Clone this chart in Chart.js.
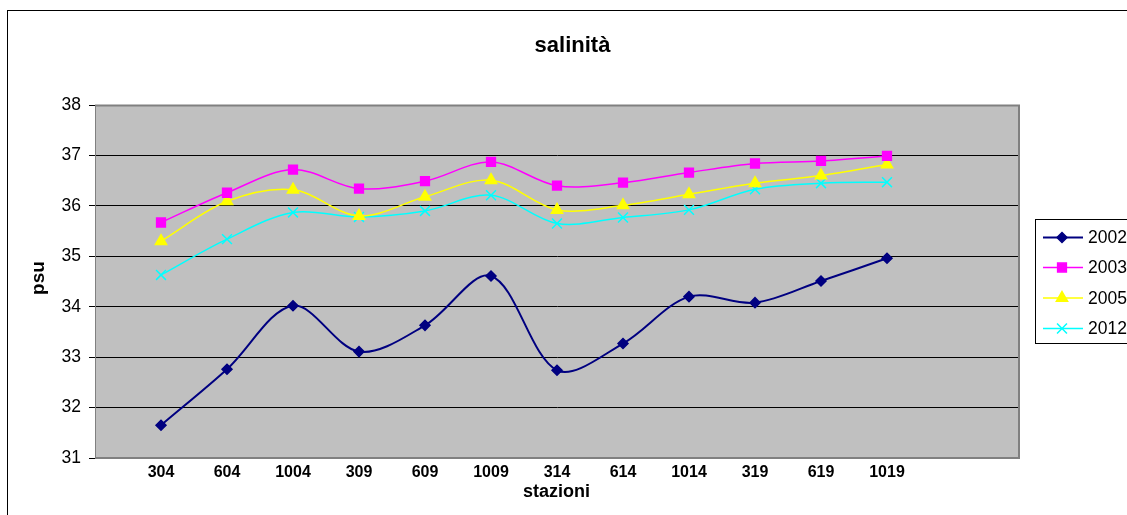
<!DOCTYPE html>
<html>
<head>
<meta charset="utf-8">
<title>salinità</title>
<script src="https://cdn.jsdelivr.net/npm/chart.js@4/dist/chart.umd.min.js"></script>
<style>
  html, body { margin: 0; padding: 0; background: #ffffff; }
  #wrap { width: 1127px; height: 515px; position: relative; overflow: hidden; }
  canvas { display: block; }
</style>
</head>
<body>
<div id="wrap"><canvas id="c" width="1127" height="515"></canvas></div>
<script>
// Stations along the transect
const stazioni = ['304', '604', '1004', '309', '609', '1009', '314', '614', '1014', '319', '619', '1019'];

// Salinity (psu) per survey year
const anni = ['2002', '2003', '2005', '2012'];
const sal2002 = [31.65, 32.76, 34.02, 33.11, 33.63, 34.61, 32.74, 33.27, 34.20, 34.08, 34.51, 34.96];
const sal2003 = [35.67, 36.26, 36.72, 36.34, 36.49, 36.87, 36.40, 36.46, 36.66, 36.84, 36.89, 36.99];
const sal2005 = [35.30, 36.09, 36.32, 35.80, 36.18, 36.51, 35.92, 36.01, 36.23, 36.45, 36.60, 36.82];
const sal2012 = [34.63, 35.34, 35.87, 35.78, 35.90, 36.21, 35.65, 35.77, 35.92, 36.33, 36.45, 36.47];

// Value axis range
const yMin = 31, yMax = 38, yStep = 1;

// The category axis keeps one empty slot before the first station and two after the last
const etichette = [''].concat(stazioni, ['', '']);
const pad = arr => [null].concat(arr, [null, null]);

const FONT = '"Liberation Sans", Arial, sans-serif';

const serie = [
  { label: anni[0], data: pad(sal2002), color: '#000080', style: 'rectRot', radius: 5, width: 2 },
  { label: anni[1], data: pad(sal2003), color: '#FF00FF', style: 'rect', radius: 6.2, width: 1.5 },
  { label: anni[2], data: pad(sal2005), color: '#FFFF00', style: 'triangle', radius: 6.5, width: 1.5 },
  { label: anni[3], data: pad(sal2012), color: '#00FFFF', style: 'crossRot', radius: 7, width: 1.5 }
];

function marker(ctx, style, x, y, r, color) {
  ctx.save();
  ctx.fillStyle = color;
  ctx.strokeStyle = color;
  ctx.lineWidth = 1.5;
  ctx.beginPath();
  if (style === 'rectRot') {
    ctx.moveTo(x, y - r); ctx.lineTo(x + r, y); ctx.lineTo(x, y + r); ctx.lineTo(x - r, y);
    ctx.closePath(); ctx.fill(); ctx.stroke();
  } else if (style === 'rect') {
    const s = r * Math.SQRT1_2;
    ctx.rect(x - s, y - s, 2 * s, 2 * s); ctx.fill(); ctx.stroke();
  } else if (style === 'triangle') {
    for (let i = 0; i < 3; i++) {
      const a = -Math.PI / 2 + i * 2 * Math.PI / 3;
      const px = x + r * Math.cos(a), py = y + r * Math.sin(a);
      if (i === 0) ctx.moveTo(px, py); else ctx.lineTo(px, py);
    }
    ctx.closePath(); ctx.fill(); ctx.stroke();
  } else {
    const s = r * Math.SQRT1_2;
    ctx.moveTo(x - s, y - s); ctx.lineTo(x + s, y + s);
    ctx.moveTo(x + s, y - s); ctx.lineTo(x - s, y + s);
    ctx.stroke();
  }
  ctx.restore();
}

// Page frame, plot background and plot border
const sfondo = {
  id: 'sfondo',
  beforeDraw(chart) {
    const { ctx, chartArea: a } = chart;
    ctx.save();
    ctx.fillStyle = '#ffffff';
    ctx.fillRect(0, 0, chart.width, chart.height);
    ctx.fillStyle = '#C0C0C0';
    ctx.fillRect(a.left, a.top, a.right - a.left, a.bottom - a.top);
    ctx.restore();
  },
  beforeDatasetsDraw(chart) {
    const { ctx, chartArea: a } = chart;
    ctx.save();
    ctx.strokeStyle = '#808080';
    ctx.lineWidth = 2;
    ctx.beginPath();
    ctx.moveTo(a.left, a.top + 0.5);
    ctx.lineTo(a.right, a.top + 0.5);
    ctx.lineTo(a.right, a.bottom);
    ctx.lineTo(a.left, a.bottom);
    ctx.stroke();
    ctx.restore();
  }
};

// Title, axis titles and legend box
const testi = {
  id: 'testi',
  afterDraw(chart) {
    const { ctx } = chart;
    ctx.save();
    // outer frame
    ctx.strokeStyle = '#000000';
    ctx.lineWidth = 1;
    ctx.strokeRect(7.5, 10.5, 1200, 600);

    ctx.fillStyle = '#000000';
    ctx.textAlign = 'center';
    ctx.textBaseline = 'alphabetic';
    ctx.font = 'bold 22px ' + FONT;
    ctx.fillText('salinità', 572.5, 52);

    ctx.font = 'bold 18px ' + FONT;
    ctx.fillText('stazioni', 556.5, 497);

    ctx.save();
    ctx.translate(43.5, 278);
    ctx.rotate(-Math.PI / 2);
    ctx.font = 'bold 19px ' + FONT;
    ctx.fillText('psu', 0, 0);
    ctx.restore();

    // legend
    const lx = 1035.5, ly = 219.5, lw = 150, lh = 124;
    ctx.fillStyle = '#ffffff';
    ctx.fillRect(lx, ly, lw, lh);
    ctx.strokeStyle = '#000000';
    ctx.lineWidth = 1;
    ctx.strokeRect(lx, ly, lw, lh);
    const ys = [237.5, 267.5, 298, 328.5];
    chart.data.datasets.forEach((ds, i) => {
      const y = ys[i];
      ctx.strokeStyle = ds.borderColor;
      ctx.lineWidth = ds.borderWidth;
      ctx.beginPath();
      ctx.moveTo(1043, y);
      ctx.lineTo(1083, y);
      ctx.stroke();
      marker(ctx, serie[i].style, 1062, y, serie[i].radius, ds.borderColor);
      ctx.fillStyle = '#000000';
      ctx.textAlign = 'left';
      ctx.textBaseline = 'middle';
      ctx.font = '17.5px ' + FONT;
      ctx.fillText(ds.label, 1088, y + 1);
    });
    ctx.restore();
  }
};

new Chart(document.getElementById('c'), {
  type: 'line',
  data: {
    labels: etichette,
    datasets: serie.map(s => ({
      label: s.label,
      data: s.data,
      borderColor: s.color,
      backgroundColor: s.color,
      borderWidth: s.width,
      pointStyle: s.style,
      pointRadius: s.radius,
      pointBorderWidth: 1.5,
      pointBackgroundColor: s.color,
      pointBorderColor: s.color,
      tension: 0.33,
      fill: false
    }))
  },
  options: {
    responsive: false,
    animation: false,
    devicePixelRatio: 1,
    layout: { padding: { left: 0, top: 105, right: 108, bottom: 0 } },
    plugins: {
      legend: { display: false },
      title: { display: false },
      tooltip: { enabled: false }
    },
    scales: {
      x: {
        type: 'category',
        offset: false,
        grid: { display: false, drawTicks: false, tickLength: 0 },
        border: { display: false },
        ticks: {
          autoSkip: false,
          maxRotation: 0,
          padding: 5,
          color: '#000000',
          font: { family: FONT, size: 16, weight: 'bold' }
        },
        afterFit(scale) { scale.height = 57; }
      },
      y: {
        min: yMin,
        max: yMax,
        ticks: {
          stepSize: yStep,
          padding: 8,
          color: '#000000',
          font: { family: FONT, size: 17.5 }
        },
        grid: {
          color: ctx => (ctx.tick && (ctx.tick.value === yMin || ctx.tick.value === yMax)) ? 'rgba(0,0,0,0)' : '#000000',
          tickColor: '#000000',
          lineWidth: 1,
          drawTicks: true,
          tickLength: 6
        },
        border: { display: true, color: '#808080', width: 1 },
        afterFit(scale) { scale.width = 95; }
      }
    }
  },
  plugins: [sfondo, testi]
});
</script>
</body>
</html>
